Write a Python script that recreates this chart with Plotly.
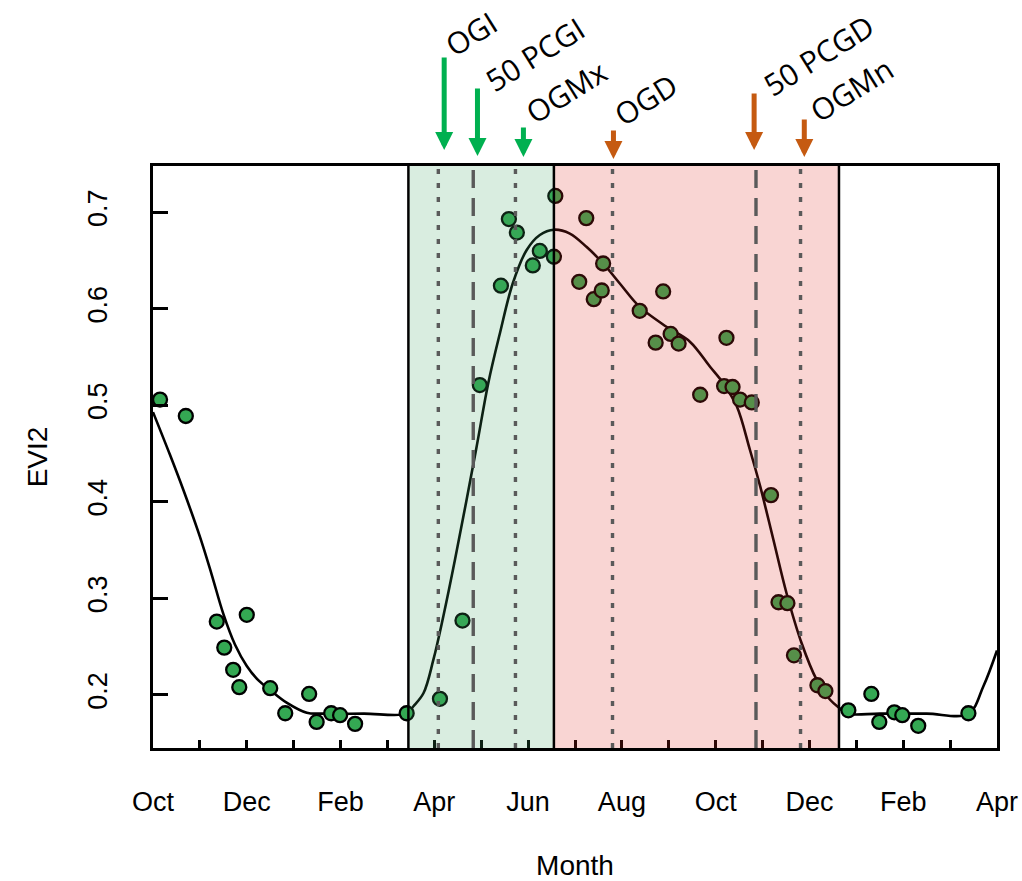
import plotly.graph_objects as go

# ---------------- data (months since 1 Oct) ----------------
month_ticks = list(range(0, 19))
month_labels = ["Oct", "", "Dec", "", "Feb", "", "Apr", "", "Jun", "", "Aug", "",
                "Oct", "", "Dec", "", "Feb", "", "Apr"]

obs_month = [0.15, 0.70, 1.36, 1.52, 1.71, 1.84, 2.00, 2.50, 2.82, 3.33, 3.49, 3.80, 3.99, 4.31,
             5.41, 6.12, 6.60, 6.97, 7.42, 7.59, 7.76, 8.10, 8.25, 8.55, 8.58,
             9.24, 9.09, 9.40, 9.57, 9.60, 10.38, 10.72, 10.88, 11.04, 11.21, 11.67,
             12.23, 12.18, 12.36, 12.52, 12.77, 13.18, 13.34, 13.53, 13.67, 14.17, 14.34,
             14.83, 15.32, 15.49, 15.81, 15.98, 16.32, 17.39]
obs_evi2 = [0.506, 0.489, 0.276, 0.249, 0.226, 0.208, 0.283, 0.207, 0.181, 0.201, 0.172, 0.181, 0.179, 0.170,
            0.181, 0.196, 0.277, 0.521, 0.624, 0.693, 0.679, 0.645, 0.660, 0.654, 0.717,
            0.694, 0.628, 0.610, 0.619, 0.647, 0.598, 0.565, 0.618, 0.574, 0.564, 0.511,
            0.570, 0.520, 0.519, 0.506, 0.503, 0.407, 0.296, 0.295, 0.241, 0.210, 0.204,
            0.184, 0.201, 0.172, 0.182, 0.179, 0.168, 0.181]

fit_month = [0, 0.36, 0.65, 1.0, 1.25, 1.5, 1.75, 2.0, 2.25, 2.5, 2.85, 3.28, 3.6, 4.5, 5.41,
             5.55, 5.77, 5.98, 6.19, 6.44, 6.89, 7.15, 7.40, 7.67, 7.97, 8.25, 8.55, 8.89,
             9.25, 9.60, 9.96, 10.38, 10.95, 11.45, 11.88, 12.16, 12.45, 12.73, 12.95, 13.23,
             13.51, 13.83, 14.15, 14.44, 14.65, 14.8, 15.5, 16.5, 17.39, 17.71, 18.0]
fit_evi2 = [0.493, 0.449, 0.412, 0.364, 0.325, 0.284, 0.252, 0.230, 0.215, 0.205, 0.192, 0.1815,
            0.1806, 0.1806, 0.1806, 0.188, 0.202, 0.2365, 0.281, 0.340, 0.454, 0.523, 0.575,
            0.626, 0.661, 0.6765, 0.682, 0.678, 0.664, 0.647, 0.626, 0.602, 0.5815, 0.566,
            0.540, 0.523, 0.499, 0.454, 0.416, 0.361, 0.3056, 0.254, 0.216, 0.195, 0.186,
            0.1806, 0.1806, 0.1806, 0.1806, 0.209, 0.246]

# phase boundaries
green_start, green_end, red_end = 5.447, 8.55, 14.63

# phenology events
event_names = ["OGI", "50 PCGI", "OGMx", "OGD", "50 PCGD", "OGMn"]
event_month = [6.085, 6.83, 7.73, 9.80, 12.86, 13.81]
event_dash = ["dot", "dash", "dot", "dot", "dash", "dot"]
arrow_month = [6.21, 6.92, 7.90, 9.82, 12.82, 13.89]

# ---------------- styles ----------------
arrow_colors = ["#00b050", "#00b050", "#00b050", "#c55a11", "#c55a11", "#c55a11"]
arrow_tip_y = [150, 156, 157, 159, 150, 157]      # pixel y of arrow tip
arrow_tail_y = [56, 87, 126, 129, 92, 118]        # pixel y of arrow tail
label_dx = [27, 57, 43, 32, 64, 47]
label_cy = [33, 54, 91, 99, 55, 89]

PLOT_TOP = 166
FONT = "Liberation Sans, Arial, sans-serif"

fig = go.Figure()
fig.add_trace(go.Scatter(x=fit_month, y=fit_evi2, mode="lines",
                         line=dict(color="black", width=2.6, shape="spline", smoothing=1.0),
                         hoverinfo="skip", showlegend=False))
fig.add_trace(go.Scatter(x=obs_month, y=obs_evi2, mode="markers",
                         marker=dict(size=14, color="#34a853", line=dict(color="black", width=2.3)),
                         showlegend=False))

shapes = []
shapes.append(dict(type="rect", xref="x", yref="paper", x0=green_start, x1=green_end, y0=0, y1=1,
                   fillcolor="rgba(65,165,100,0.2)", line=dict(width=0), layer="above"))
shapes.append(dict(type="rect", xref="x", yref="paper", x0=green_end, x1=red_end, y0=0, y1=1,
                   fillcolor="rgba(225,45,35,0.2)", line=dict(width=0), layer="above"))
for xb in [green_start, green_end, red_end]:
    shapes.append(dict(type="line", xref="x", yref="paper", x0=xb, x1=xb, y0=0, y1=1,
                       line=dict(color="black", width=2.5), layer="above"))
dash_map = {"dot": "5px,9px", "dash": "18px,10px"}
for xm, d in zip(event_month, event_dash):
    shapes.append(dict(type="line", xref="x", yref="paper", x0=xm, x1=xm, y0=0, y1=1,
                       line=dict(color="#5a5a5a", width=3.4, dash=dash_map[d]), layer="above"))
fig.update_layout(shapes=shapes)

annotations = []
for i, name in enumerate(event_names):
    annotations.append(dict(x=arrow_month[i], xref="x", y=1, yref="paper",
                            yshift=PLOT_TOP - arrow_tip_y[i],
                            ax=0, ay=-(arrow_tip_y[i] - arrow_tail_y[i]), axref="pixel", ayref="pixel",
                            text="", showarrow=True, arrowhead=2, arrowsize=0.72, arrowwidth=5,
                            arrowcolor=arrow_colors[i], standoff=0))
    annotations.append(dict(x=arrow_month[i], xref="x", y=1, yref="paper",
                            xshift=label_dx[i], yshift=PLOT_TOP - label_cy[i],
                            text=name, showarrow=False, textangle=-32,
                            xanchor="center", yanchor="middle",
                            font=dict(family="Open Sans, sans-serif", size=30, color="black")))
fig.update_layout(annotations=annotations)

fig.update_xaxes(range=[0, 18], tickvals=month_ticks, ticktext=month_labels,
                 ticks="inside", ticklen=8, tickwidth=2.5, tickcolor="black",
                 showline=True, linecolor="black", linewidth=2.5, mirror=True,
                 showgrid=False, zeroline=False, ticklabelstandoff=28, automargin=False,
                 tickfont=dict(family=FONT, size=27, color="black"),
                 title=dict(text="Month", font=dict(family=FONT, size=28, color="black"), standoff=40))
fig.update_yaxes(range=[0.145, 0.748], tickvals=[0.2, 0.3, 0.4, 0.5, 0.6, 0.7],
                 ticktext=["0.2", "0.3", "0.4", "0.5", "0.6", "0.7"],
                 ticks="inside", ticklen=15, tickwidth=2.5, tickcolor="black", tickangle=-90,
                 showline=True, linecolor="black", linewidth=2.5, mirror=True,
                 showgrid=False, zeroline=False, ticklabelstandoff=32, automargin=False,
                 tickfont=dict(family=FONT, size=27, color="black"),
                 title=dict(text="EVI2", font=dict(family=FONT, size=28, color="black"), standoff=28))

fig.update_layout(width=1022, height=881, margin=dict(l=153, r=25, t=166, b=133),
                  plot_bgcolor="white", paper_bgcolor="white")

fig.write_html("out.html", config={"displayModeBar": False},
               post_script="document.body.style.margin='0';document.body.style.overflow='hidden';")
